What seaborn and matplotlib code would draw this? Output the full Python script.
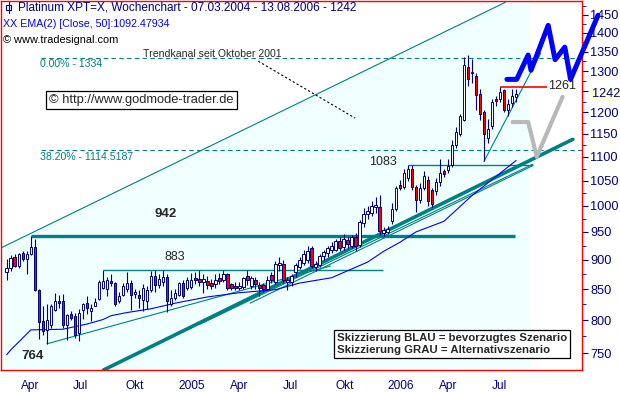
import matplotlib
matplotlib.use("Agg")
import matplotlib.pyplot as plt
from matplotlib.ticker import FixedLocator, FixedFormatter, NullFormatter
from matplotlib.patches import Rectangle
import numpy as np
import pandas as pd
import seaborn as sns

sns.set_style("white")
plt.rcParams['font.family'] = ['Liberation Sans', 'DejaVu Sans']

NAVY = '#000080'
TEAL = '#008080'

# weekly candles, 07.03.2004 - 13.08.2006
opens = [879, 886, 904, 889, 912, 901, 910, 922, 848, 798, 785, 792, 816, 831, 830, 792,
         810, 807, 780, 816, 827, 814, 822, 833, 851, 850, 864, 860, 830, 840, 850, 860,
         842, 840, 832, 830, 848, 872, 857, 862, 871, 826, 835, 841, 860, 852, 853, 868,
         867, 862, 864, 860, 858, 868, 866, 875, 858, 855, 852, 853, 872, 855, 866, 856,
         857, 850, 873, 862, 890, 893, 862, 862, 878, 888, 895, 899, 920, 888, 890, 906,
         912, 917, 918, 934, 922, 936, 925, 940, 927, 966, 983, 985, 998, 998, 948, 950,
         970, 993, 1042, 1038, 1055, 1075, 1038, 1012, 1035, 1052, 1030, 1029, 1047, 1070, 1071, 1083,
         1125, 1150, 1182, 1310, 1294, 1288, 1244, 1200, 1140, 1168, 1231, 1232, 1252, 1205, 1222, 1235]
highs = [902, 908, 910, 912, 916, 915, 942, 937, 850, 822, 825, 826, 843, 840, 842, 810,
         815, 811, 817, 828, 838, 826, 836, 865, 883, 870, 875, 862, 845, 860, 878, 865,
         850, 848, 858, 855, 880, 882, 875, 883, 875, 848, 850, 862, 865, 870, 877, 878,
         883, 876, 872, 867, 875, 877, 883, 877, 860, 862, 862, 870, 882, 872, 870, 862,
         860, 872, 878, 897, 905, 900, 870, 876, 895, 905, 918, 925, 925, 898, 910, 918,
         925, 932, 937, 940, 947, 940, 945, 948, 972, 995, 1000, 1010, 1018, 1020, 960, 962,
         1005, 1040, 1052, 1075, 1083, 1083, 1042, 1045, 1070, 1060, 1035, 1055, 1095, 1075, 1095, 1136,
         1165, 1195, 1335, 1341, 1330, 1295, 1256, 1205, 1185, 1230, 1238, 1261, 1256, 1232, 1256, 1254]
lows = [865, 880, 887, 885, 897, 876, 908, 846, 771, 777, 764, 788, 814, 820, 788, 770,
        800, 773, 768, 802, 810, 798, 822, 832, 850, 838, 855, 822, 828, 838, 845, 816,
        835, 820, 815, 818, 845, 845, 852, 855, 813, 822, 832, 838, 835, 848, 850, 858,
        855, 843, 850, 850, 852, 858, 862, 848, 848, 848, 848, 850, 857, 850, 850, 838,
        845, 848, 860, 858, 880, 860, 848, 855, 870, 884, 890, 895, 885, 880, 887, 900,
        905, 912, 915, 915, 918, 920, 920, 915, 922, 960, 975, 980, 985, 944, 942, 946,
        965, 990, 1030, 1032, 1050, 1030, 988, 1005, 1030, 1000, 998, 1020, 1040, 1058, 1065, 1078,
        1118, 1145, 1180, 1262, 1270, 1205, 1181, 1090, 1130, 1160, 1215, 1225, 1200, 1190, 1212, 1224]
closes = [886, 903, 889, 910, 901, 910, 922, 848, 797, 783, 800, 823, 831, 827, 792, 808,
          803, 777, 812, 825, 820, 820, 829, 862, 863, 865, 860, 825, 838, 855, 860, 840,
          845, 835, 852, 848, 872, 857, 867, 871, 830, 835, 843, 860, 839, 866, 866, 866,
          862, 867, 857, 855, 866, 864, 875, 852, 852, 852, 855, 868, 865, 868, 858, 852,
          850, 866, 866, 893, 895, 866, 866, 872, 890, 899, 910, 915, 889, 893, 906, 914,
          920, 925, 934, 921, 937, 928, 940, 925, 968, 983, 990, 1000, 1001, 951, 953, 956,
          993, 1035, 1036, 1065, 1075, 1038, 1011, 1035, 1060, 1010, 1003, 1047, 1066, 1064, 1081, 1125,
          1154, 1190, 1315, 1280, 1298, 1240, 1195, 1150, 1162, 1225, 1227, 1248, 1205, 1220, 1238, 1242]
weeks = pd.date_range("2004-03-07", periods=len(closes), freq="7D")

# EMA(50) read at selected weeks (1-based week number)
ema_week_no = [1, 2, 7, 15, 21, 25, 27, 31, 37, 43, 51, 59, 68, 74, 82, 91, 95, 99, 103, 110, 113, 117, 122, 128]
ema_vals = [748, 755, 785, 786, 794, 801, 807, 812, 818, 827, 837, 844, 849, 860, 869, 896, 915, 931,
            950, 970, 991, 1020, 1052, 1092]

# trend lines
upper_dates = ["2004-02-26", "2006-07-25"]
upper_vals = [921, 1486]
shade_dates = ["2004-02-26", "2006-07-25", "2006-09-06"]
shade_top = [921, 1486, 1600]
lower_dates = ["2004-08-23", "2006-11-20"]
lower_vals = [726, 1138]
low_line_dates = ["2004-05-16", "2005-09-23"]
low_line_vals = [764, 889]
thin_a_dates = ["2005-02-08", "2006-09-11"]
thin_a_vals = [794, 1084]
thin_b_dates = ["2005-05-06", "2006-09-11"]
thin_b_vals = [827, 1081]
steep_dates = ["2006-06-18", "2006-09-25"]
steep_vals = [1090, 1346]
dotted_dates = ["2005-05-20", "2005-11-05"]
dotted_vals = [1325, 1186]

# horizontal levels
lvl_942 = (942, "2004-04-18", "2006-08-11")
lvl_883 = (883, "2004-08-22", "2005-12-24")
lvl_1083 = (1083, "2006-02-05", "2006-09-11")
lvl_1261 = (1261, "2006-07-16", "2006-10-06")
fib_levels = [1334, 1114.5187]
fib_start = "2004-05-05"

# scenarios
blue_dates = ["2006-07-28", "2006-08-14", "2006-09-03", "2006-09-08", "2006-10-08",
              "2006-10-20", "2006-11-06", "2006-11-16", "2007-01-03"]
blue_vals = [1279, 1279, 1341, 1302, 1421, 1329, 1362, 1279, 1449]
gray_dates = ["2006-08-07", "2006-09-03", "2006-09-18", "2006-11-02"]
gray_vals = [1177, 1177, 1100, 1236]

xmin, xmax = pd.Timestamp("2004-02-26"), pd.Timestamp("2006-12-06")
ymin, ymax = 726, 1490

fig = plt.figure(figsize=(6.2, 3.93), dpi=100)
ax = fig.add_axes([1 / 620, 23 / 393, 581 / 620, 369 / 393])
ax.set_yscale('log')
ax.set_xlim(xmin, xmax)
ax.set_ylim(ymin, ymax)


def pos(x, y):
    # pixel position -> axes fraction
    return (x - 1) / 581, (370 - y) / 369


td = pd.to_datetime
ax.fill_between(td(shade_dates), shade_top, 600, color='#f0ffff', lw=0, zorder=0)

# channel and trend lines
ax.plot(td(upper_dates), upper_vals, color=TEAL, lw=0.8, zorder=2)
ax.plot(td(lower_dates), lower_vals, color=TEAL, lw=2.6, zorder=2)
ax.plot(td(low_line_dates), low_line_vals, color=TEAL, lw=0.8, zorder=2)
ax.plot(td(thin_a_dates), thin_a_vals, color=TEAL, lw=0.8, zorder=2)
ax.plot(td(thin_b_dates), thin_b_vals, color=TEAL, lw=0.8, zorder=2)
ax.plot(td(steep_dates), steep_vals, color=TEAL, lw=0.8, zorder=2)
ax.plot(td(dotted_dates), dotted_vals, color='black', lw=0.8, ls=(0, (2, 2)), zorder=2)

for val in fib_levels:
    ax.hlines(val, td(fib_start), xmax, color=TEAL, lw=0.8, ls=(0, (4, 3)), zorder=2)
ax.hlines(lvl_942[0], td(lvl_942[1]), td(lvl_942[2]), color=TEAL, lw=2.4, zorder=2)
for lv in (lvl_883, lvl_1083):
    ax.hlines(lv[0], td(lv[1]), td(lv[2]), color=TEAL, lw=1.0, zorder=2)
ax.hlines(lvl_1261[0], td(lvl_1261[1]), td(lvl_1261[2]), color='red', lw=1.2, zorder=2)

# EMA
ema_dates = weeks[np.array(ema_week_no) - 1]
sns.lineplot(x=ema_dates, y=ema_vals, ax=ax, color='#0000ff', lw=0.8, zorder=3)

# candles
o = np.array(opens)
c = np.array(closes)
lo_body = np.minimum(o, c)
hi_body = np.maximum(o, c)
ax.vlines(weeks, lows, highs, color=NAVY, lw=0.8, zorder=4)
ax.bar(weeks, hi_body - lo_body, bottom=lo_body, width=4.4,
       color=np.where(c >= o, 'white', 'red'), edgecolor=NAVY, linewidth=0.7, zorder=5)

# scenario sketches
ax.plot(td(gray_dates), gray_vals, color='#b8b8b8', lw=3.0, zorder=6)
ax.plot(td(blue_dates), blue_vals, color='#0000ff', lw=3.6, zorder=6, clip_on=False)

# axes styling
for sp in ax.spines.values():
    sp.set_color('red')
    sp.set_linewidth(1.0)
    sp.set_visible(True)

yt = list(range(750, 1451, 50))
ax.yaxis.tick_right()
ax.yaxis.set_major_locator(FixedLocator(yt))
ax.yaxis.set_major_formatter(FixedFormatter(['' if v == 1250 else str(v) for v in yt]))
ax.yaxis.set_minor_locator(FixedLocator(list(range(725, 1476, 50))))
ax.yaxis.set_minor_formatter(NullFormatter())

month_ticks = pd.date_range("2004-03-01", "2006-08-01", freq="MS")
quarter_ticks = pd.to_datetime(["2004-04-01", "2004-07-01", "2004-10-01", "2005-01-01", "2005-04-01",
                                "2005-07-01", "2005-10-01", "2006-01-01", "2006-04-01", "2006-07-01"])
quarter_labels = ["Apr", "Jul", "Okt", "2005", "Apr", "Jul", "Okt", "2006", "Apr", "Jul"]
ax.set_xticks(quarter_ticks)
ax.set_xticklabels(quarter_labels, ha='left')
ax.set_xticks(month_ticks, minor=True)
ax.tick_params(axis='both', which='both', direction='out', colors=NAVY)
ax.tick_params(axis='x', which='major', labelsize=8.6, length=4, pad=3)
ax.tick_params(axis='y', which='major', labelsize=9.2, length=4, pad=2)
ax.tick_params(axis='both', which='minor', length=3)
ax.set_xlabel('')
ax.set_ylabel('')

# current price marker on the right axis
ax.annotate("1242", xy=(1, closes[-1]), xycoords=('axes fraction', 'data'),
            xytext=(7, 0), textcoords='offset points', va='center', ha='left',
            fontsize=9.2, color=NAVY, annotation_clip=False,
            bbox=dict(boxstyle='square,pad=0.15', fc='#ffffe0', ec='none'))

# texts
fig.text(18 / 620, 1 - 8 / 393, "Platinum XPT=X, Wochenchart - 07.03.2004 - 13.08.2006 - 1242",
         color=NAVY, fontsize=8.5, va='center', ha='left')
fig.add_artist(Rectangle((6 / 620, 1 - 10 / 393), 5 / 620, 5 / 393, transform=fig.transFigure,
                         fill=False, ec=NAVY, lw=0.8))
fig.add_artist(plt.Line2D([8.5 / 620, 8.5 / 620], [1 - 13 / 393, 1 - 2 / 393],
                          transform=fig.transFigure, color=NAVY, lw=0.8))
fig.text(3 / 620, 1 - 24 / 393, "XX EMA(2) [Close, 50]:1092.47934", color='#0000ff',
         fontsize=7.7, va='center', ha='left')
fig.text(3 / 620, 1 - 40 / 393, "© www.tradesignal.com", color='black',
         fontsize=7.9, va='center', ha='left')

ax.text(*pos(143, 54), "Trendkanal seit Oktober 2001", transform=ax.transAxes,
        fontsize=7.6, va='center', ha='left', zorder=7)
ax.text(*pos(40, 64), "0.00% - 1334", transform=ax.transAxes, color=TEAL,
        fontsize=7.6, va='center', ha='left', zorder=7)
ax.text(*pos(40, 157), "38.20% - 1114.5187", transform=ax.transAxes, color=TEAL,
        fontsize=7.6, va='center', ha='left', zorder=7)
ax.text(*pos(49, 100), "© http://www.godmode-trader.de", transform=ax.transAxes,
        fontsize=9.3, va='center', ha='left', zorder=7,
        bbox=dict(boxstyle='square,pad=0.25', fc='white', ec='black', lw=0.9))
ax.text(*pos(166, 214), "942", transform=ax.transAxes, fontsize=9.5, fontweight='bold',
        va='center', ha='center', zorder=7)
ax.text(*pos(33, 356), "764", transform=ax.transAxes, fontsize=9.5, fontweight='bold',
        va='center', ha='center', zorder=7)
ax.text(*pos(175, 257), "883", transform=ax.transAxes, fontsize=9,
        va='center', ha='center', zorder=7)
ax.text(*pos(383, 162), "1083", transform=ax.transAxes, fontsize=9,
        va='center', ha='center', zorder=7)
ax.text(*pos(548, 86), "1261", transform=ax.transAxes, fontsize=9,
        va='center', ha='left', zorder=7)
ax.text(*pos(337, 344), "Skizzierung BLAU = bevorzugtes Szenario\nSkizzierung GRAU = Alternativszenario",
        transform=ax.transAxes, fontsize=8.2, fontweight='bold', va='center', ha='left',
        linespacing=1.2, zorder=7,
        bbox=dict(boxstyle='square,pad=0.25', fc='white', ec='black', lw=0.9))

fig.savefig("out.png", dpi=100)
